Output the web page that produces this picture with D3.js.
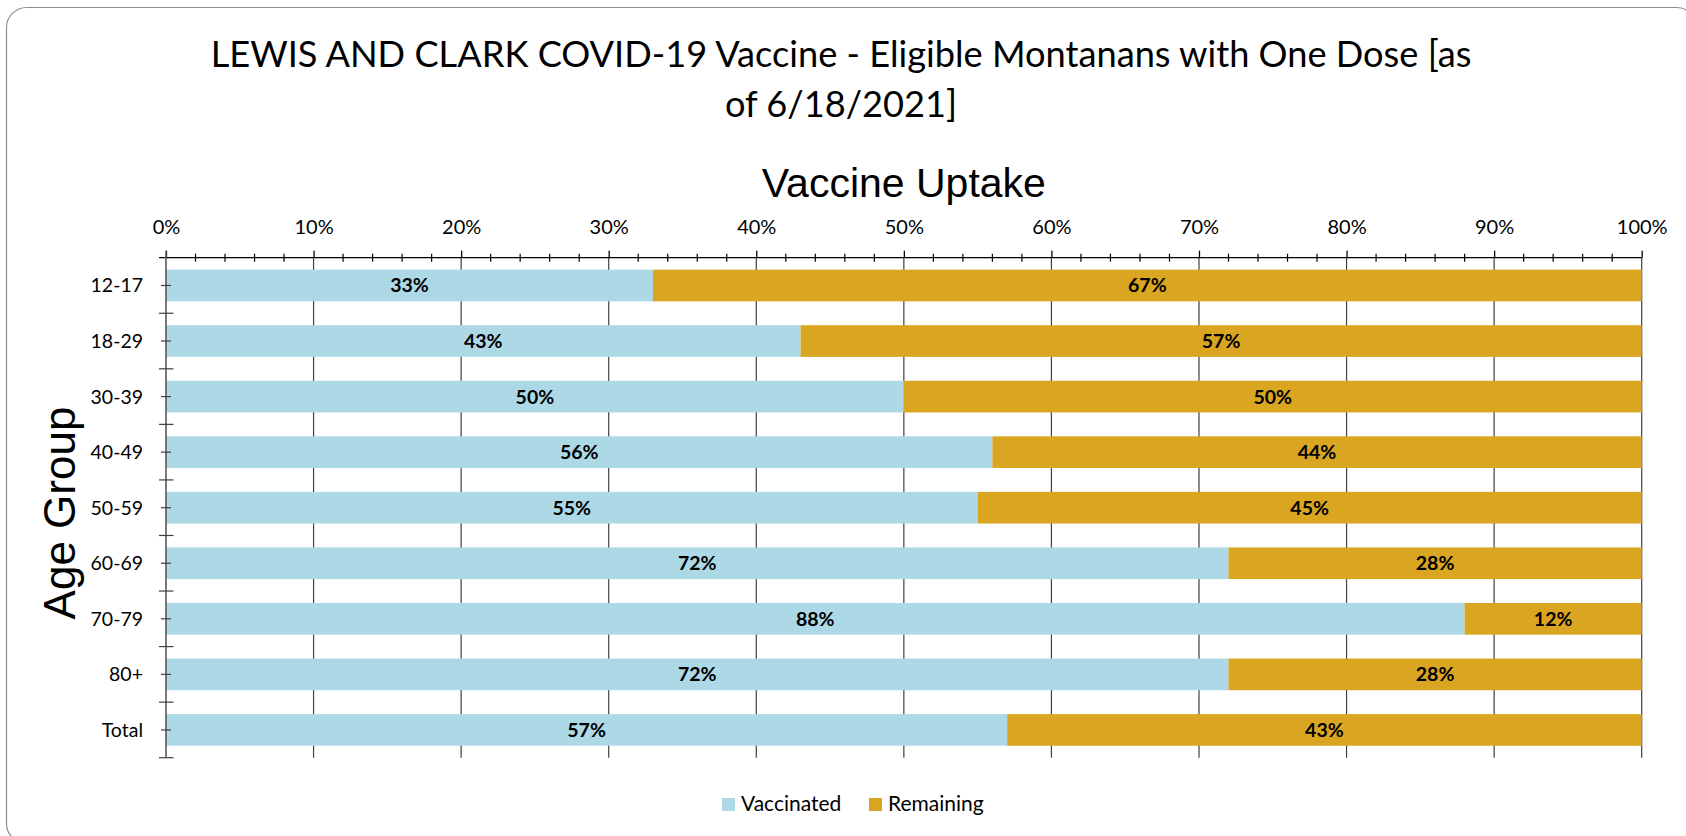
<!DOCTYPE html>
<html>
<head>
<meta charset="utf-8">
<script src="https://cdn.jsdelivr.net/npm/d3@7"></script>
<style>
  html, body { margin: 0; padding: 0; background: #fff; }
  svg { display: block; }
</style>
</head>
<body>
<div id="chart"></div>
<script>
// chart data
var categories = ["12-17", "18-29", "30-39", "40-49", "50-59", "60-69", "70-79", "80+", "Total"];
var vaccinated = [33, 43, 50, 56, 55, 72, 88, 72, 57];
var remaining = [67, 57, 50, 44, 45, 28, 12, 28, 43];
var seriesNames = ["Vaccinated", "Remaining"];
var seriesColors = ["#add8e6", "#daa520"];
var xTicks = [0, 10, 20, 30, 40, 50, 60, 70, 80, 90, 100];
var titleLines = ["LEWIS AND CLARK COVID-19 Vaccine - Eligible Montanans with One Dose [as", "of 6/18/2021]"];

var chartW = 1686, chartH = 836;
// plot area (note: "top" is taken by window.top, so own names here)
var plotL = 166, plotR = 1641.7, plotT = 257.7, plotB = 757.7;
var labelFont = "Lato, 'Open Sans', sans-serif";

var svg = d3.select("#chart").append("svg")
    .attr("width", chartW).attr("height", chartH);

// rounded frame round the whole slide
svg.append("rect")
    .attr("x", 6.5).attr("y", 7.5)
    .attr("width", 1690).attr("height", 836)
    .attr("rx", 20).attr("ry", 20)
    .attr("fill", "#fff").attr("stroke", "#8c8c8c").attr("stroke-width", 1.2);

// title, fitted to the width of the first line
var title = svg.append("g").attr("font-family", labelFont).attr("fill", "#000");
var t1 = title.append("text").attr("x", 841).attr("y", 66.7).attr("text-anchor", "middle")
    .attr("font-size", 32).text(titleLines[0]);
var fit = 32 * 1261 / t1.node().getComputedTextLength();
t1.attr("font-size", fit);
title.append("text").attr("x", 841).attr("y", 117).attr("text-anchor", "middle")
    .attr("font-size", fit).text(titleLines[1]);

var x = d3.scaleLinear().domain([0, 100]).range([plotL, plotR]);
var y = d3.scaleBand().domain(categories).range([plotT, plotB])
    .paddingInner(0.43).paddingOuter(0.215);

// vertical gridlines behind the bars
svg.append("g").selectAll("line")
    .data(xTicks.slice(1))
    .join("line")
    .attr("x1", function(d) { return x(d); }).attr("x2", function(d) { return x(d); })
    .attr("y1", plotT).attr("y2", plotB)
    .attr("stroke", "#404040").attr("stroke-width", 1.2);

// stacked bars
var rows = categories.map(function(c, i) {
    return { cat: c, parts: [[0, vaccinated[i]], [vaccinated[i], vaccinated[i] + remaining[i]]] };
});

var barG = svg.append("g");
seriesNames.forEach(function(name, s) {
    barG.append("g").selectAll("rect")
        .data(rows)
        .join("rect")
        .attr("x", function(d) { return x(d.parts[s][0]); })
        .attr("y", function(d) { return y(d.cat); })
        .attr("width", function(d) { return x(d.parts[s][1]) - x(d.parts[s][0]); })
        .attr("height", y.bandwidth())
        .attr("fill", seriesColors[s]);
});

// value labels in the middle of each piece
seriesNames.forEach(function(name, s) {
    var vals = s === 0 ? vaccinated : remaining;
    svg.append("g").selectAll("text")
        .data(rows)
        .join("text")
        .attr("x", function(d) { return x((d.parts[s][0] + d.parts[s][1]) / 2); })
        .attr("y", function(d) { return y(d.cat) + y.bandwidth() / 2 + 7; })
        .attr("text-anchor", "middle")
        .attr("font-family", labelFont).attr("font-weight", "bold").attr("font-size", 19.5)
        .attr("fill", "#000")
        .text(function(d, i) { return vals[i] + "%"; });
});

// x axis on top
var xAxis = svg.append("g").attr("transform", "translate(0," + plotT + ")")
    .call(d3.axisTop(x).tickValues(xTicks).tickFormat(function(d) { return d + "%"; })
        .tickSize(7).tickPadding(16.7));
xAxis.select(".domain").attr("d", "M" + (plotL - 7) + ",0H" + plotR).attr("stroke", "#000").attr("stroke-width", 1.3);
xAxis.selectAll(".tick line").attr("stroke", "#000").attr("stroke-width", 1.3);
xAxis.selectAll(".tick text").attr("font-family", labelFont).attr("font-size", 20).attr("fill", "#000");

// minor ticks every 2%
var minor = d3.range(0, 101, 2).filter(function(d) { return d % 10 !== 0; });
svg.append("g").selectAll("line")
    .data(minor)
    .join("line")
    .attr("x1", function(d) { return x(d); }).attr("x2", function(d) { return x(d); })
    .attr("y1", plotT - 4).attr("y2", plotT + 4)
    .attr("stroke", "#000").attr("stroke-width", 1.2);

// y axis
var yAxis = svg.append("g").attr("transform", "translate(" + plotL + ",0)")
    .call(d3.axisLeft(y).tickSize(5).tickPadding(18));
yAxis.select(".domain").attr("d", "M0," + (plotT - 7) + "V" + plotB).attr("stroke", "#595959").attr("stroke-width", 1.6);
yAxis.selectAll(".tick line").attr("x1", -5).attr("x2", 5).attr("stroke", "#404040").attr("stroke-width", 1.2);
yAxis.selectAll(".tick text").attr("font-family", labelFont).attr("font-size", 19.5).attr("fill", "#000").attr("dy", 7);

// category boundary ticks
svg.append("g").selectAll("line")
    .data(d3.range(1, categories.length + 1))
    .join("line")
    .attr("x1", plotL - 7).attr("x2", plotL + 7.5)
    .attr("y1", function(i) { return plotT + i * y.step(); })
    .attr("y2", function(i) { return plotT + i * y.step(); })
    .attr("stroke", "#404040").attr("stroke-width", 1.2);

// axis titles
svg.append("text").attr("x", (plotL + plotR) / 2).attr("y", 197)
    .attr("text-anchor", "middle")
    .attr("font-family", "'Liberation Sans', Arial, sans-serif").attr("font-size", 41)
    .attr("fill", "#000").text("Vaccine Uptake");

svg.append("text").attr("transform", "translate(75,513) rotate(-90)")
    .attr("text-anchor", "middle")
    .attr("font-family", "'Liberation Sans', Arial, sans-serif").attr("font-size", 44)
    .attr("fill", "#000").text("Age Group");

// legend
var legend = svg.append("g").attr("font-family", labelFont).attr("font-size", 21);
var legendX = [722, 869];
seriesNames.forEach(function(name, s) {
    var g = legend.append("g").attr("transform", "translate(" + legendX[s] + ",798)");
    g.append("rect").attr("width", 13).attr("height", 13).attr("fill", seriesColors[s]);
    g.append("text").attr("x", 19).attr("y", 13).attr("fill", "#000").text(name);
});
</script>
</body>
</html>
